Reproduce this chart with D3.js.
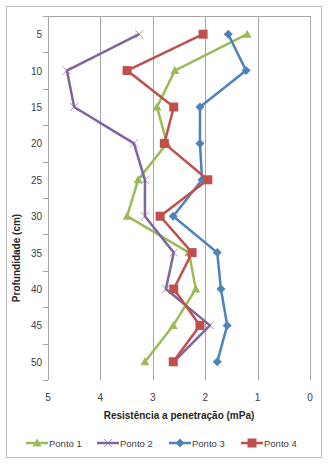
<!DOCTYPE html>
<html><head><meta charset="utf-8">
<script src="https://cdn.jsdelivr.net/npm/d3@7"></script>
<style>body{margin:0;background:#fff}svg{display:block}</style>
</head><body>
<script>
const depths = [5,10,15,20,25,30,35,40,45,50];
const ponto1 = [1.20,2.58,2.92,2.73,3.28,3.49,2.31,2.18,2.61,3.15];
const ponto2 = [3.26,4.64,4.50,3.36,3.15,3.15,2.60,2.75,1.91,2.60];
const ponto3 = [1.56,1.22,2.10,2.10,2.06,2.61,1.77,1.70,1.58,1.77];
const ponto4 = [2.04,3.49,2.60,2.78,1.95,2.86,2.25,2.60,2.10,2.61];
const seriesNames = ["Ponto 1","Ponto 2","Ponto 3","Ponto 4"];
const seriesColors = ["#9BBB59","#8064A2","#4F81BD","#C0504D"];
const seriesMarkers = ["triangle","cross","diamond","square"];
const xTicks = [5,4,3,2,1,0];
const yLabels = [5,10,15,20,25,30,35,40,45,50];
const yTickMarks = [2.5,7.5,12.5,17.5,22.5,27.5,32.5,37.5,42.5,47.5,52.5];
const xTitle = "Resistência a penetração (mPa)";
const yTitle = "Profundidade (cm)";

const W=328,H=464;
const svg=d3.select("body").append("svg").attr("width",W).attr("height",H);
const font="'Liberation Sans', Arial, sans-serif";
svg.append("rect").attr("x",6.5).attr("y",6.5).attr("width",315).attr("height",451)
  .attr("fill","#fff").attr("stroke","#bfbfbf");

const x=d3.scaleLinear().domain([5,0]).range([48,310]);
const y=d3.scaleLinear().domain([2.5,52.5]).range([16,380]);

// gridlines
svg.append("g").selectAll("line").data(xTicks.slice(1)).join("line")
  .attr("x1",d=>Math.round(x(d))+0.5).attr("x2",d=>Math.round(x(d))+0.5)
  .attr("y1",y(2.5)).attr("y2",y(52.5)).attr("stroke","#a6a6a6").attr("stroke-width",1);
// top axis line
svg.append("line").attr("x1",48).attr("x2",310).attr("y1",16.5).attr("y2",16.5).attr("stroke","#a6a6a6");
// left axis
svg.append("line").attr("x1",48.5).attr("x2",48.5).attr("y1",16).attr("y2",380).attr("stroke","#a6a6a6");
svg.append("g").selectAll("line").data(yTickMarks).join("line")
  .attr("x1",43).attr("x2",48).attr("y1",d=>Math.round(y(d))+0.5).attr("y2",d=>Math.round(y(d))+0.5)
  .attr("stroke","#a6a6a6");
svg.append("g").selectAll("text").data(yLabels).join("text")
  .attr("x",42).attr("y",d=>y(d)+4).attr("text-anchor","end")
  .attr("font-family",font).attr("font-size",10).attr("fill","#404040").text(d=>d);
svg.append("g").selectAll("text").data(xTicks).join("text")
  .attr("x",d=>x(d)).attr("y",401).attr("text-anchor","middle")
  .attr("font-family",font).attr("font-size",10).attr("fill","#404040").text(d=>d);
svg.append("text").attr("x",179).attr("y",419).attr("text-anchor","middle")
  .attr("font-family",font).attr("font-size",10).attr("font-weight","bold").attr("fill","#262626").text(xTitle);
svg.append("text").attr("transform","translate(20,258) rotate(-90)").attr("text-anchor","middle")
  .attr("font-family",font).attr("font-size",10).attr("font-weight","bold").attr("fill","#262626").text(yTitle);

function marker(g,type,cx,cy,color,s){
  if(type==="triangle"){
    g.append("path").attr("d",`M${cx},${cy-4.5}L${cx+4.5},${cy+3.5}L${cx-4.5},${cy+3.5}Z`).attr("fill",color);
  } else if(type==="square"){
    g.append("rect").attr("x",cx-4.5).attr("y",cy-4.5).attr("width",9).attr("height",9).attr("fill",color);
  } else if(type==="diamond"){
    g.append("path").attr("d",`M${cx},${cy-4.5}L${cx+4.5},${cy}L${cx},${cy+4.5}L${cx-4.5},${cy}Z`).attr("fill",color);
  } else {
    g.append("path").attr("d",`M${cx-4},${cy-4}L${cx+4},${cy+4}M${cx-4},${cy+4}L${cx+4},${cy-4}`)
      .attr("stroke",color).attr("stroke-width",1).attr("opacity",0.7);
  }
}

const allSeries=[ponto1,ponto2,ponto3,ponto4];
const line=d3.line().x(d=>x(d[0])).y(d=>y(d[1]));
allSeries.forEach((vals,i)=>{
  const pts=vals.map((v,j)=>[v,depths[j]]);
  const g=svg.append("g");
  g.append("path").datum(pts).attr("d",line).attr("fill","none")
    .attr("stroke",seriesColors[i]).attr("stroke-width",2.5).attr("stroke-linejoin","round");
  pts.forEach(p=>marker(g,seriesMarkers[i],x(p[0]),y(p[1]),seriesColors[i]));
});

// legend
const legX=[26,97,169,241];
seriesNames.forEach((n,i)=>{
  const g=svg.append("g");
  g.append("line").attr("x1",legX[i]).attr("x2",legX[i]+22).attr("y1",443).attr("y2",443)
    .attr("stroke",seriesColors[i]).attr("stroke-width",2.5);
  marker(g,seriesMarkers[i],legX[i]+11,443,seriesColors[i]);
  g.append("text").attr("x",legX[i]+23).attr("y",446.5).attr("font-family",font).attr("font-size",9.5)
    .attr("fill","#404040").text(n);
});
</script>
</body></html>
